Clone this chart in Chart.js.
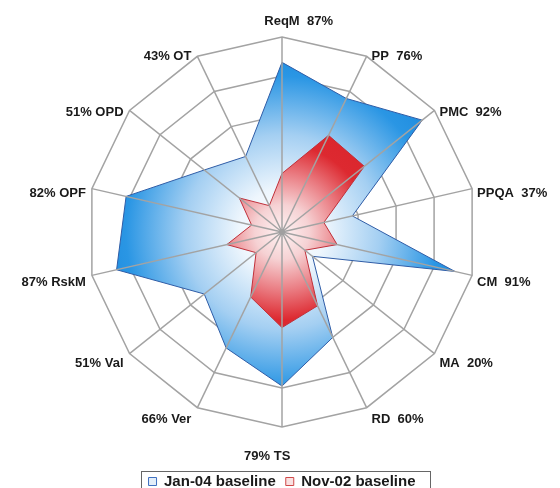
<!DOCTYPE html>
<html>
<head>
<meta charset="utf-8">
<script src="https://cdn.jsdelivr.net/npm/chart.js@4/dist/chart.umd.min.js"></script>
<style>
  body { margin: 0; background: #fff; }
  #wrap { width: 560px; height: 488px; }
</style>
</head>
<body>
<div id="wrap"><canvas id="radar" width="560" height="488"></canvas></div>
<script>
// process areas and the two baselines (percent satisfied)
const categories = ['ReqM', 'PP', 'PMC', 'PPQA', 'CM', 'MA', 'RD', 'TS', 'Ver', 'Val', 'RskM', 'OPF', 'OPD', 'OT'];
const jan04 = [87, 76, 92, 37, 91, 20, 60, 79, 66, 51, 87, 82, 51, 43];
const nov02 = [30, 55, 54, 22, 29, 15, 42, 49, 37, 17, 29, 16, 28, 15];
const seriesNames = ['Jan-04 baseline', 'Nov-02 baseline'];
const ringStep = 20;
const scaleMax = 100;

const labelFont = 'bold 13px "Liberation Sans", Arial, sans-serif';

// radial gradient from the middle of the web outwards
function radialFill(context, stops) {
    const chart = context.chart;
    const s = chart.scales.r;
    if (!s || !chart.chartArea) return stops[stops.length - 1][1];
    const g = chart.ctx.createRadialGradient(s.xCenter, s.yCenter, 0, s.xCenter, s.yCenter, s.drawingArea);
    stops.forEach(st => g.addColorStop(st[0], st[1]));
    return g;
}

const blueStops = [[0, '#ffffff'], [0.22, '#eef6fd'], [0.5, '#a4cff2'], [0.8, '#2a96e4'], [1, '#1a88dc']];
const redStops = [[0, '#fff3f3'], [0.14, '#f6d2d4'], [0.3, '#ea7c82'], [0.45, '#dd2930'], [1, '#d21c24']];

// spokes sit on top of the filled areas, labels go round the outside
const overlay = {
    id: 'overlay',
    afterDatasetsDraw(chart) {
        const s = chart.scales.r;
        const ctx = chart.ctx;
        ctx.save();
        ctx.strokeStyle = '#a3a3a3';
        ctx.lineWidth = 1.5;
        for (let i = 0; i < categories.length; i++) {
            const p = s.getPointPosition(i, s.drawingArea);
            ctx.beginPath();
            ctx.moveTo(s.xCenter, s.yCenter);
            ctx.lineTo(p.x, p.y);
            ctx.stroke();
        }
        ctx.fillStyle = '#a0a0a0';
        ctx.beginPath();
        ctx.arc(s.xCenter, s.yCenter, 3, 0, Math.PI * 2);
        ctx.fill();
        ctx.restore();
    },
    afterDraw(chart) {
        const s = chart.scales.r;
        const ctx = chart.ctx;
        const n = categories.length;
        const R = s.drawingArea;
        ctx.save();
        ctx.font = labelFont;
        ctx.fillStyle = '#1a1a1a';
        ctx.textBaseline = 'middle';
        for (let i = 0; i < n; i++) {
            const p = s.getPointPosition(i, R);
            const ang = i * 2 * Math.PI / n;
            const name = categories[i];
            const pct = jan04[i] + '%';
            const y = s.yCenter - (R + 6) * Math.cos(ang) + 6;
            if (i === 0) {
                ctx.textAlign = 'left';
                ctx.fillText(name + '  ' + pct, p.x - ctx.measureText(name).width / 2, p.y - 16);
            } else if (i === n / 2) {
                ctx.textAlign = 'right';
                ctx.fillText(pct + ' ' + name, p.x + ctx.measureText(name).width / 2, p.y + 29);
            } else if (i < n / 2) {
                ctx.textAlign = 'left';
                ctx.fillText(name + '  ' + pct, p.x + 5, y);
            } else {
                ctx.textAlign = 'right';
                ctx.fillText(pct + ' ' + name, p.x - 6, y);
            }
        }
        // frame round the legend
        const hb = chart.legend.legendHitBoxes;
        if (hb && hb.length) {
            const first = hb[0], last = hb[hb.length - 1];
            ctx.strokeStyle = '#666';
            ctx.lineWidth = 1;
            ctx.strokeRect(Math.round(first.left - 8) + 0.5, Math.round(first.top - 3) + 0.5,
                Math.round(last.left + last.width - first.left + 22), 40);
        }
        ctx.restore();
    }
};

new Chart(document.getElementById('radar'), {
    type: 'radar',
    data: {
        labels: categories,
        datasets: [
            {
                label: seriesNames[0],
                data: jan04,
                order: 2,
                backgroundColor: ctx => radialFill(ctx, blueStops),
                borderColor: '#2f5ca6',
                borderWidth: 1,
                pointRadius: 0,
                fill: true
            },
            {
                label: seriesNames[1],
                data: nov02,
                order: 1,
                backgroundColor: ctx => radialFill(ctx, redStops),
                borderColor: '#c0303a',
                borderWidth: 1,
                pointRadius: 0,
                fill: true
            }
        ]
    },
    options: {
        responsive: false,
        animation: false,
        layout: { padding: { left: 87, right: 83, top: 0, bottom: -11 } },
        scales: {
            r: {
                min: 0,
                max: scaleMax,
                ticks: { display: false, stepSize: ringStep },
                grid: { color: '#a3a3a3', lineWidth: 1.5 },
                angleLines: { display: false },
                pointLabels: { display: false }
            }
        },
        plugins: {
            tooltip: { enabled: false },
            legend: {
                position: 'bottom',
                labels: {
                    font: { family: '"Liberation Sans", Arial, sans-serif', size: 15, weight: 'bold' },
                    color: '#1a1a1a',
                    boxWidth: 8,
                    boxHeight: 8,
                    padding: 10,
                    generateLabels(chart) {
                        const fills = ['#e3eef9', '#f9e1e1'];
                        const strokes = ['#3f70c0', '#d04848'];
                        return chart.data.datasets.map((ds, i) => ({
                            text: ds.label,
                            fillStyle: fills[i],
                            strokeStyle: strokes[i],
                            lineWidth: 1,
                            fontColor: '#1a1a1a',
                            datasetIndex: i,
                            hidden: false
                        }));
                    }
                }
            }
        }
    },
    plugins: [overlay]
});
</script>
</body>
</html>
